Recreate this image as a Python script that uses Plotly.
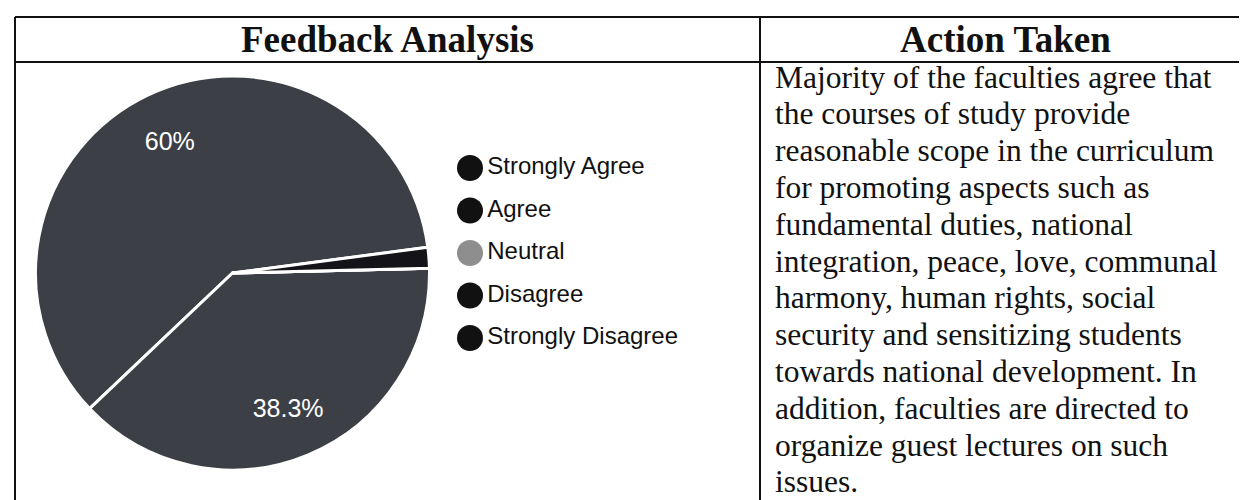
import plotly.graph_objects as go

W, H = 1247, 500

# ---- data ----
categories = ["Strongly Agree", "Agree", "Neutral", "Disagree", "Strongly Disagree"]
percent_values = [60.0, 38.3, 0.0, 0.0, 1.7]
slice_colors = ["#3d3f47", "#3d3f47", "#8c8c8c", "#1a1a1e", "#141418"]
legend_colors = ["#111111", "#111111", "#8e8e8e", "#111111", "#111111"]
slice_labels = ["60%", "38.3%", "", "", ""]

header_left = "Feedback Analysis"
header_right = "Action Taken"
action_lines = [
    "Majority of the faculties agree that",
    "the courses of study provide",
    "reasonable scope in the curriculum",
    "for promoting aspects such as",
    "fundamental duties, national",
    "integration, peace, love, communal",
    "harmony, human rights, social",
    "security and sensitizing students",
    "towards national development. In",
    "addition, faculties are directed to",
    "organize guest lectures on such",
    "issues.",
]


def px(x):
    return x / W


def py(y):
    return 1 - y / H


pie_domain = dict(x=[px(27.5), px(421.5)], y=[py(462), py(68)])
pie_rotation = 226.5

fig = go.Figure()

# pie slices
fig.add_trace(go.Pie(
    labels=categories,
    values=percent_values,
    sort=False,
    direction="counterclockwise",
    rotation=pie_rotation,
    marker=dict(colors=slice_colors, line=dict(color="white", width=3)),
    textinfo="none",
    showlegend=False,
    hoverinfo="label+percent",
    domain=pie_domain,
))

# same pie as a transparent ring, only to place the percentage labels further out
fig.add_trace(go.Pie(
    labels=categories,
    values=percent_values,
    sort=False,
    direction="counterclockwise",
    rotation=pie_rotation,
    hole=0.48,
    marker=dict(colors=["rgba(0,0,0,0)"] * len(categories), line=dict(width=0)),
    text=slice_labels,
    textinfo="text",
    textposition="inside",
    insidetextorientation="horizontal",
    textfont=dict(family="Liberation Sans, Arial", size=25, color="white"),
    showlegend=False,
    hoverinfo="skip",
    domain=pie_domain,
))

# legend drawn as a scatter on hidden axes
fig.add_trace(go.Scatter(
    x=[0] * len(categories),
    y=categories,
    mode="markers+text",
    marker=dict(size=26, color=legend_colors, symbol="circle"),
    text=categories,
    textposition="middle right",
    textfont=dict(family="Liberation Sans, Arial", size=24, color="#111111"),
    cliponaxis=False,
    showlegend=False,
    hoverinfo="skip",
))

leg_top, leg_bottom = 138.75, 351.25
fig.update_layout(
    width=W, height=H,
    margin=dict(l=0, r=0, t=0, b=0),
    paper_bgcolor="white",
    plot_bgcolor="rgba(0,0,0,0)",
    xaxis=dict(domain=[px(450), px(474)], range=[-1, 1], visible=False, fixedrange=True),
    yaxis=dict(domain=[py(leg_bottom), py(leg_top)], range=[4.5, -0.5], type="category",
               visible=False, fixedrange=True),
    showlegend=False,
)

# table borders
line_style = dict(color="#111111", width=2)
x_left, x_mid, x_right = 7, 752, 1243
y_top, y_head, y_bottom = 9, 54, 499
shapes = []
for (x0, y0, x1, y1) in [
    (x_left, y_top, x_right, y_top),
    (x_left, y_head, x_right, y_head),
    (x_left, y_bottom, x_right, y_bottom),
    (x_left, y_top, x_left, y_bottom),
    (x_mid, y_top, x_mid, y_bottom),
    (x_right, y_top, x_right, y_bottom),
]:
    shapes.append(dict(type="line", xref="paper", yref="paper",
                       x0=px(x0), y0=py(y0), x1=px(x1), y1=py(y1), line=line_style))
fig.update_layout(shapes=shapes)

serif = "Liberation Serif, Times New Roman"
annotations = [
    dict(text="<b>%s</b>" % header_left, x=px((x_left + x_mid) / 2), y=py(31.5),
         xref="paper", yref="paper", showarrow=False, xanchor="center", yanchor="middle",
         font=dict(family=serif, size=37, color="#111111")),
    dict(text="<b>%s</b>" % header_right, x=px((x_mid + x_right) / 2), y=py(31.5),
         xref="paper", yref="paper", showarrow=False, xanchor="center", yanchor="middle",
         font=dict(family=serif, size=37, color="#111111")),
]
first_y, spacing = 69, 36.8
for i, line in enumerate(action_lines):
    annotations.append(dict(
        text=line, x=px(765), y=py(first_y + i * spacing), xref="paper", yref="paper",
        showarrow=False, xanchor="left", yanchor="middle",
        font=dict(family=serif, size=31.5, color="#111111")))
fig.update_layout(annotations=annotations)

fig.write_html("out.html")
